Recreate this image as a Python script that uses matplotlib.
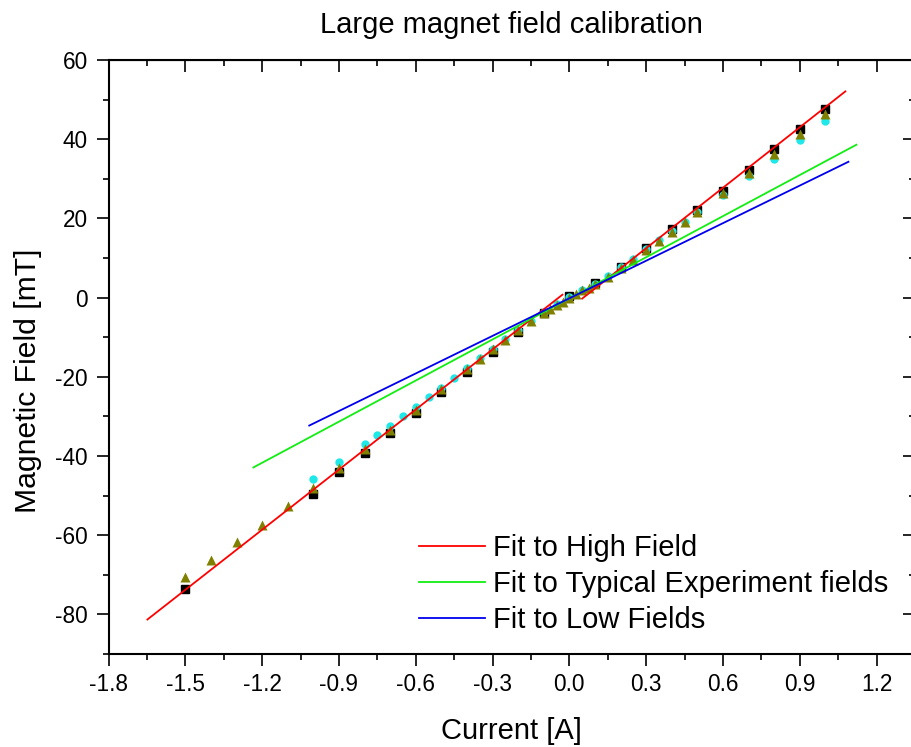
import matplotlib.pyplot as plt
from matplotlib.ticker import MultipleLocator, FormatStrFormatter
import numpy as np

plt.rcParams['font.family'] = ['Liberation Sans', 'DejaVu Sans']
plt.rcParams['axes.unicode_minus'] = False

# measured points (current in A, field in mT)
sq_x = [-1.5, -1.0, -0.9, -0.8, -0.7, -0.6, -0.5, -0.4, -0.3, -0.2, -0.1, 0.0,
        0.1, 0.2, 0.3, 0.4, 0.5, 0.6, 0.7, 0.8, 0.9, 1.0]
sq_y = [-73.5, -49.5, -44.0, -39.2, -34.3, -29.2, -23.9, -18.8, -13.7, -8.8, -4.0, 0.3,
        3.8, 7.8, 12.5, 17.3, 22.0, 27.0, 32.3, 37.4, 42.6, 47.7]

cy_x = [-1.0, -0.9, -0.8, -0.75, -0.7, -0.65, -0.6, -0.55, -0.5, -0.45, -0.4, -0.35,
        -0.3, -0.25, -0.2, -0.15, -0.1, -0.05, 0.0, 0.05, 0.1, 0.15, 0.2, 0.25, 0.3,
        0.35, 0.4, 0.45, 0.5, 0.6, 0.7, 0.8, 0.9, 1.0]
cy_y = [-45.8, -41.6, -36.9, -34.8, -32.5, -30.0, -27.6, -25.2, -22.8, -20.2, -17.9, -15.2,
        -12.9, -10.5, -8.1, -5.8, -3.6, -1.7, 0.2, 1.9, 3.5, 5.4, 7.6, 9.8, 12.2,
        14.6, 16.9, 19.2, 21.6, 25.9, 30.8, 35.1, 39.9, 44.6]

tr_x = [-1.5, -1.4, -1.3, -1.2, -1.1, -1.0, -0.9, -0.8, -0.7, -0.6, -0.5, -0.4,
        -0.35, -0.3, -0.25, -0.2, -0.15, -0.1, -0.075, -0.05, -0.025, 0.0, 0.025,
        0.05, 0.075, 0.1, 0.15, 0.2, 0.25, 0.3, 0.35, 0.4, 0.45, 0.5, 0.6, 0.7,
        0.8, 0.9, 1.0]
tr_y = [-70.6, -66.2, -61.6, -57.3, -52.7, -48.0, -43.1, -38.3, -33.4, -28.3, -23.1, -18.0,
        -15.6, -13.0, -10.6, -8.2, -5.9, -3.8, -2.9, -1.9, -1.0, 0.0, 0.9,
        1.8, 2.5, 3.4, 5.3, 7.5, 9.6, 12.0, 14.2, 16.6, 19.1, 21.5, 26.5, 31.4,
        36.3, 41.2, 46.4]

# linear fits: slope, intercept, x range
hi_neg = (50.6, 2.1, -1.648, -0.027)
hi_pos = (50.9, -2.8, 0.05, 1.078)
typ = (34.6, -0.19, -1.234, 1.121)
low = (31.63, -0.18, -1.016, 1.09)

fig = plt.figure(figsize=(9.11, 7.47), dpi=100)
ax = fig.add_axes([0.1191, 0.1245, 0.8853, 0.7952])

ax.plot(sq_x, sq_y, 's', color='black', ms=5.5, zorder=3)
ax.plot(cy_x, cy_y, 'o', color='#1ee8e8', ms=6, mec='none', zorder=3)
ax.plot(tr_x, tr_y, '^', color='#808000', ms=7, mec='none', zorder=4)

def fitline(p, **kw):
    xs = np.array([p[2], p[3]])
    return ax.plot(xs, p[0] * xs + p[1], zorder=5, lw=1.3, **kw)

fitline(hi_neg, color='#ff0000', label='Fit to High Field')
fitline(hi_pos, color='#ff0000')
fitline(typ, color='#11ee11', label='Fit to Typical Experiment fields')
fitline(low, color='#0000ee', label='Fit to Low Fields')

ax.set_xlim(-1.8, 1.35)
ax.set_ylim(-90, 60)
ax.xaxis.set_major_locator(MultipleLocator(0.3))
ax.xaxis.set_minor_locator(MultipleLocator(0.15))
ax.yaxis.set_major_locator(MultipleLocator(20))
ax.yaxis.set_minor_locator(MultipleLocator(10))
ax.xaxis.set_major_formatter(FormatStrFormatter('%.1f'))

ax.tick_params(which='both', direction='out', labelsize=16.3, width=1.2)
ax.tick_params(which='major', length=8.5)
ax.tick_params(which='minor', length=4.3)
ax.tick_params(axis='x', pad=5)
ax.tick_params(axis='y', pad=6.5)
for s in ax.spines.values():
    s.set_linewidth(1.5)

# mirrored inward ticks on top and right
sx = ax.secondary_xaxis('top')
sx.xaxis.set_major_locator(MultipleLocator(0.3))
sx.xaxis.set_minor_locator(MultipleLocator(0.15))
sx.tick_params(which='both', direction='in', labeltop=False, width=1.2)
sx.tick_params(which='major', length=8.5)
sx.tick_params(which='minor', length=4.3)
sy = ax.secondary_yaxis('right')
sy.yaxis.set_major_locator(MultipleLocator(20))
sy.yaxis.set_minor_locator(MultipleLocator(10))
sy.tick_params(which='both', direction='in', labelright=False, width=1.2)
sy.tick_params(which='major', length=8.5)
sy.tick_params(which='minor', length=4.3)

ax.set_xlabel('Current [A]', fontsize=21, labelpad=15)
ax.set_ylabel('Magnetic Field [mT]', fontsize=21.7)
ax.yaxis.set_label_coords(-0.0825, 0.4604)
ax.set_title('Large magnet field calibration', fontsize=21, pad=19.5)

ax.legend(loc='upper left', bbox_to_anchor=(419 / 911, 1 - 534 / 747),
          bbox_transform=fig.transFigure, frameon=False, fontsize=21,
          handlelength=2.25, handletextpad=0.3, labelspacing=0.28,
          borderpad=0, borderaxespad=0)

fig.savefig('out.png', dpi=100)
